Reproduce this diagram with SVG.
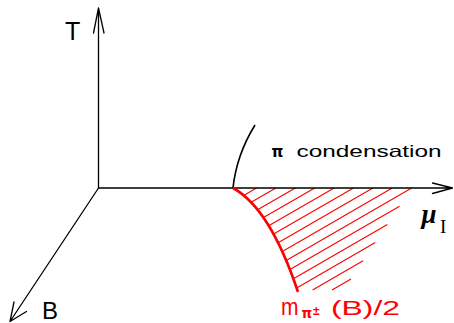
<svg xmlns="http://www.w3.org/2000/svg" width="454" height="323" viewBox="0 0 454 323">
<style>
.ax{fill:none;stroke:#000;stroke-width:1.3;stroke-linecap:round;stroke-linejoin:round}
.bk{fill:none;stroke:#000;stroke-width:1.6}
.rc{fill:none;stroke:#f00;stroke-width:2.6}
.h{stroke:#f00;stroke-width:1.1;fill:none}
.lab{font-family:"Liberation Sans",Arial,sans-serif;fill:#000}
.red{fill:#f00}
</style>
<rect width="454" height="323" fill="#fff"/>
<g id="hatching">
<path class="h" d="M256.5,188L243.7,195.4M275.9,188L251.1,202.3M295.3,188L257.6,209.8M314.7,188L263.5,217.6M334.1,188L268.7,225.7M353.5,188L273.6,234.1M372.9,188L278.1,242.7M392.3,188L282.3,251.5M411.7,188L286.2,260.5M399.6,206.2L289.9,269.5M387.4,224.4L293.4,278.7M375.3,242.6L296.7,288M363.1,260.8L312.6,290M351,279.1L332,290"/>
</g>
<g id="connectors">
<path class="ax" d="M98.5,188H452.5M432.5,183L452.5,188L432.5,193.5"/>
<path class="ax" d="M98.5,188V8M93.5,33L98.5,8L104,33"/>
<path class="ax" d="M98.5,188L10,321.5M14,302L10,321.5L26.5,311.5"/>
</g>
<g id="boundaries">
<path class="bk" d="M233,188Q236.5,155 255,125"/>
<path class="rc" d="M233,188Q270.1,208.4 298,292"/>
</g>
<g id="labels">
<text class="lab" x="65" y="40" font-size="25">T</text>
<text class="lab" x="42" y="318.5" font-size="24">B</text>
<text class="lab" x="271.5" y="156.7" font-size="15" font-weight="bold" style="font-family:'DejaVu Sans',sans-serif">π</text>
<text class="lab" x="296.5" y="156.7" font-size="16.5" textLength="145" lengthAdjust="spacingAndGlyphs">condensation</text>
<text class="lab" x="421.5" y="223" font-size="27" font-weight="bold" font-style="italic" style="font-family:'Liberation Serif',serif">μ</text>
<text class="lab" x="440" y="233" font-size="19" style="font-family:'Liberation Serif',serif">I</text>
<text class="lab red" x="281" y="315" font-size="24" textLength="17.5" lengthAdjust="spacingAndGlyphs">m</text>
<text class="lab red" x="301.5" y="318.3" font-size="13.5" font-weight="bold" style="font-family:'DejaVu Sans',sans-serif">π</text>
<text class="lab red" x="313" y="315" font-size="12" font-weight="bold">±</text>
<text class="lab red" x="331" y="314.5" font-size="21" textLength="69" lengthAdjust="spacingAndGlyphs">(B)/2</text>
</g>
</svg>
